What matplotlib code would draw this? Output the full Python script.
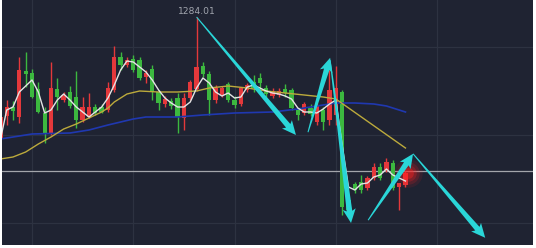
import numpy as np
import matplotlib.pyplot as plt
from matplotlib.patches import Polygon
from matplotlib.transforms import IdentityTransform

# candle data (one per bar, index 0..64)
opens = [1253.50, 1259.25, 1261.50, 1259.00, 1270.50, 1270.00, 1266.00, 1260.00, 1255.00, 1266.00,
         1263.25, 1265.25, 1264.00, 1258.25, 1259.00, 1261.50, 1261.50, 1260.75, 1265.75, 1274.00,
         1272.00, 1273.50, 1273.25, 1269.00, 1271.00, 1265.25, 1262.25, 1263.00, 1263.75, 1258.75,
         1263.75, 1266.00, 1271.75, 1269.75, 1263.25, 1264.50, 1267.25, 1263.25, 1262.25, 1265.75,
         1267.75, 1268.75, 1266.25, 1264.25, 1264.50, 1266.00, 1265.75, 1260.75, 1260.00, 1261.25,
         1257.75, 1260.75, 1258.25, 1259.50, 1265.25, 1238.25, 1242.25, 1242.75, 1241.25, 1243.75,
         1246.50, 1245.75, 1247.50, 1241.50, 1242.00]
closes = [1259.00, 1261.50, 1260.50, 1270.75, 1269.75, 1264.00, 1260.25, 1255.00, 1266.25, 1264.00,
          1264.50, 1261.75, 1258.25, 1261.50, 1261.50, 1260.00, 1260.25, 1266.25, 1274.00, 1272.00,
          1273.25, 1270.75, 1268.75, 1270.00, 1265.25, 1262.50, 1263.50, 1261.75, 1259.00, 1263.75,
          1267.75, 1271.50, 1269.75, 1263.25, 1266.25, 1266.25, 1263.25, 1262.00, 1266.25, 1267.00,
          1266.25, 1267.50, 1264.75, 1265.25, 1265.50, 1265.00, 1261.25, 1259.50, 1262.25, 1259.75,
          1262.00, 1257.75, 1265.75, 1266.25, 1236.50, 1235.75, 1240.75, 1240.75, 1243.75, 1246.50,
          1243.75, 1247.75, 1241.25, 1242.50, 1245.00]
highs = [1260.00, 1263.25, 1263.00, 1274.00, 1275.25, 1271.00, 1267.75, 1261.50, 1272.75, 1268.75,
         1265.25, 1266.75, 1270.50, 1264.00, 1265.00, 1262.25, 1262.25, 1267.75, 1276.75, 1275.25,
         1274.00, 1274.50, 1274.00, 1270.75, 1272.00, 1265.75, 1264.25, 1263.75, 1265.00, 1265.00,
         1268.25, 1284.01, 1272.75, 1270.50, 1267.00, 1266.75, 1267.75, 1264.25, 1266.50, 1267.50,
         1269.50, 1270.00, 1267.00, 1266.25, 1266.25, 1267.25, 1266.25, 1261.25, 1262.75, 1262.25,
         1262.50, 1261.50, 1270.75, 1271.75, 1265.75, 1239.50, 1242.75, 1244.50, 1244.25, 1247.50,
         1247.50, 1248.75, 1248.25, 1242.50, 1245.50]
lows = [1252.75, 1257.00, 1258.25, 1257.50, 1266.50, 1263.75, 1260.00, 1252.50, 1254.50, 1260.75,
        1262.75, 1261.25, 1256.25, 1257.75, 1258.75, 1259.50, 1260.00, 1260.25, 1265.25, 1270.75,
        1271.50, 1270.25, 1268.25, 1267.50, 1263.25, 1260.75, 1261.50, 1261.00, 1255.00, 1255.75,
        1263.25, 1265.50, 1269.00, 1259.50, 1262.50, 1264.00, 1262.75, 1261.25, 1261.75, 1265.25,
        1265.25, 1265.75, 1264.00, 1263.75, 1264.00, 1264.00, 1260.75, 1258.25, 1259.50, 1259.25,
        1257.00, 1255.75, 1257.00, 1257.00, 1234.50, 1234.50, 1240.00, 1240.00, 1240.75, 1243.25,
        1243.25, 1245.25, 1240.75, 1235.75, 1241.50]

# short moving average (white), one value per bar
ma_short = [1253.25, 1260.75, 1261.50, 1265.25, 1266.75, 1268.25, 1265.25, 1260.00, 1260.75, 1263.25,
            1264.75, 1263.25, 1261.50, 1260.25, 1259.00, 1260.25, 1261.50, 1263.75, 1267.00, 1270.75,
            1273.00, 1272.75, 1271.50, 1270.25, 1268.25, 1265.75, 1263.75, 1262.50, 1261.50, 1261.50,
            1262.75, 1266.25, 1268.75, 1267.50, 1265.25, 1264.25, 1265.00, 1263.75, 1264.00, 1266.50,
            1267.00, 1266.25, 1265.50, 1265.00, 1264.75, 1264.25, 1263.50, 1261.25, 1260.25, 1260.25,
            1260.00, 1261.00, 1262.25, 1263.25, 1252.00, 1241.50, 1240.75, 1242.25, 1242.50, 1244.00,
            1244.50, 1246.00, 1244.50, 1243.75, 1243.00]

# middle moving average (yellow)
ma_mid_idx = [0, 2, 4, 6, 8, 10, 12, 14, 16, 17, 18, 20, 22, 25, 28, 31, 33, 36, 39, 42, 45, 48, 51, 53, 64]
ma_mid = [1248.50, 1249.00, 1250.25, 1252.25, 1254.00, 1256.00, 1257.25, 1258.75, 1260.25, 1261.25,
          1262.75, 1264.75, 1265.50, 1265.25, 1265.25, 1265.50, 1266.25, 1266.75, 1266.25, 1265.50,
          1265.00, 1264.50, 1264.00, 1263.50, 1251.25]

# long moving average (blue)
ma_long_idx = [0, 2, 5, 11, 14, 17, 21, 23, 28, 32, 37, 43, 47, 50, 53, 56, 59, 61, 62, 64]
ma_long = [1253.50, 1254.00, 1254.75, 1255.00, 1255.75, 1257.00, 1258.50, 1259.00, 1259.00, 1259.50,
           1260.00, 1260.25, 1261.00, 1261.75, 1262.50, 1262.50, 1262.25, 1261.75, 1261.25, 1260.25]

level_line = 1245.4
peak_idx = 31
peak_text = '1284.01'

# hand drawn arrows: (start, tip) in (bar index, price)
arrows = [((31.0, 1284.0), (46.7, 1254.5)),
          ((48.6, 1255.2), (52.1, 1273.8)),
          ((52.1, 1273.2), (55.4, 1232.5)),
          ((58.1, 1233.2), (65.2, 1249.8)),
          ((65.2, 1249.8), (76.6, 1228.8))]

grid_x = [5, 21, 37, 53, 69]
grid_y = [1276.5, 1254.5, 1232.5]

BG = '#1f2332'
RED = '#e4383b'
GREEN = '#3cb83f'
CYAN = '#2ad6d8'

fig = plt.figure(figsize=(5.36, 2.48), dpi=100, facecolor='white')
ax = fig.add_axes([2/536, 3/248, 531/536, 245/248])
ax.set_facecolor(BG)
ax.set_xlim(0.26, 84.15)
ax.set_ylim(1227.0, 1288.25)
for s in ax.spines.values():
    s.set_visible(False)
ax.set_xticks([])
ax.set_yticks([])

for gx in grid_x:
    ax.axvline(gx, color='#2d3241', lw=0.9, zorder=0)
for gy in grid_y:
    ax.axhline(gy, color='#2d3241', lw=0.9, zorder=0)

ax.axhline(level_line, color='#a3a5ab', lw=0.9, zorder=1)

o = np.array(opens)
c = np.array(closes)
h = np.array(highs)
l = np.array(lows)
idx = np.arange(len(o))
cols = np.where(c >= o, RED, GREEN)

ax.vlines(idx, l, h, colors=cols, lw=1.0, zorder=2)
body = np.maximum(np.abs(c - o), 0.3)
ax.bar(idx, body, bottom=np.minimum(o, c), width=0.68, color=cols, zorder=2, linewidth=0)

ax.plot(ma_long_idx, ma_long, color='#1f38b0', lw=1.2, zorder=3)
ax.plot(ma_mid_idx, ma_mid, color='#bcaa3c', lw=1.0, zorder=3)
ax.plot(idx, ma_short, color='#e4e4e4', lw=1.0, zorder=3)

# red glow on the last bar
for size, a in [(420, 0.10), (260, 0.16), (140, 0.24), (60, 0.4)]:
    ax.scatter([64.4], [1245.0], s=size, color='#ff2020', alpha=a, lw=0, zorder=2.5)

ax.annotate(peak_text, (peak_idx, h[peak_idx]), xytext=(0, 0.5), textcoords='offset points',
            ha='center', va='bottom', fontsize=6.6, color='#a2a6af', zorder=6)

# arrows drawn in pixel space so they keep their shape
fig.canvas.draw()
for (x0, y0), (x1, y1) in arrows:
    S = ax.transData.transform((x0, y0))
    T = ax.transData.transform((x1, y1))
    u = (T - S) / np.hypot(*(T - S))
    n = np.array([-u[1], u[0]])
    N = T - u * 12
    pts = [S + n * 0.5, N + n * 2.8, N - u * 2 + n * 6.5, T,
           N - u * 2 - n * 6.5, N - n * 2.8, S - n * 0.5]
    ax.add_patch(Polygon(pts, closed=True, facecolor=CYAN, edgecolor='none',
                         transform=IdentityTransform(), zorder=5))

fig.savefig('out.png', dpi=100, facecolor='white')
